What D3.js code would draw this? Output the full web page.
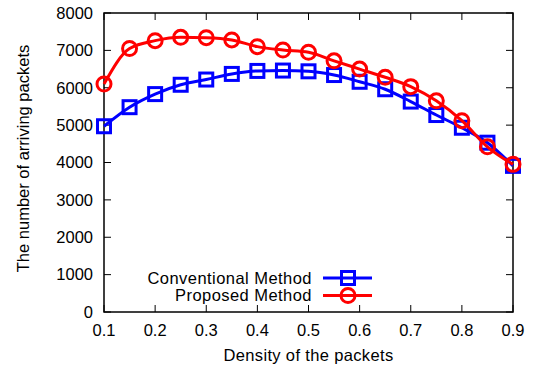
<!DOCTYPE html>
<html>
<head>
<meta charset="utf-8">
<script src="https://cdn.jsdelivr.net/npm/d3@7"></script>
<style>
  body { margin: 0; background: #fff; }
  svg text { font-family: "Liberation Sans", Arial, sans-serif; fill: #000; }
</style>
</head>
<body>
<div id="chart"></div>
<script>
const density = [0.1, 0.15, 0.2, 0.25, 0.3, 0.35, 0.4, 0.45, 0.5, 0.55, 0.6, 0.65, 0.7, 0.75, 0.8, 0.85, 0.9];
const conventional = [4970, 5480, 5830, 6080, 6220, 6370, 6450, 6460, 6440, 6340, 6160, 5960, 5630, 5270, 4930, 4530, 3910];
const proposed = [6100, 7050, 7260, 7350, 7340, 7280, 7100, 7010, 6950, 6720, 6500, 6280, 6030, 5650, 5120, 4420, 3950];
const xTicks = [0.1, 0.2, 0.3, 0.4, 0.5, 0.6, 0.7, 0.8, 0.9];
const yTicks = [0, 1000, 2000, 3000, 4000, 5000, 6000, 7000, 8000];

const width = 536, height = 369;
const margin = { top: 13, right: 23, bottom: 57, left: 104 };
const fontSize = 16.5;

const svg = d3.select('#chart').append('svg')
  .attr('width', width)
  .attr('height', height);

const x = d3.scaleLinear().domain([0.1, 0.9]).range([margin.left, width - margin.right]);
const y = d3.scaleLinear().domain([0, 8000]).range([height - margin.bottom, margin.top]);

// tick marks, mirrored on all four sides, pointing inward
const tickLen = 7;
const axes = svg.append('g').attr('stroke', '#000').attr('stroke-width', 1);
xTicks.forEach(t => {
  axes.append('line').attr('x1', x(t)).attr('x2', x(t)).attr('y1', y(0)).attr('y2', y(0) - tickLen);
  axes.append('line').attr('x1', x(t)).attr('x2', x(t)).attr('y1', y(8000)).attr('y2', y(8000) + tickLen);
});
yTicks.forEach(t => {
  axes.append('line').attr('x1', x(0.1)).attr('x2', x(0.1) + tickLen).attr('y1', y(t)).attr('y2', y(t));
  axes.append('line').attr('x1', x(0.9)).attr('x2', x(0.9) - tickLen).attr('y1', y(t)).attr('y2', y(t));
});
svg.append('rect')
  .attr('x', x(0.1)).attr('y', y(8000))
  .attr('width', x(0.9) - x(0.1)).attr('height', y(0) - y(8000))
  .attr('fill', 'none').attr('stroke', '#000').attr('stroke-width', 1.5);

// tick labels
svg.append('g').selectAll('text').data(xTicks).join('text')
  .attr('x', d => x(d)).attr('y', y(0) + 18)
  .attr('dy', '0.35em').attr('text-anchor', 'middle')
  .style('font-size', fontSize + 'px')
  .text(d => d3.format('.1f')(d));

svg.append('g').selectAll('text').data(yTicks).join('text')
  .attr('x', x(0.1) - 11).attr('y', d => y(d))
  .attr('dy', '0.35em').attr('text-anchor', 'end')
  .style('font-size', fontSize + 'px')
  .text(d => d);

// axis titles
svg.append('text')
  .attr('x', (x(0.1) + x(0.9)) / 2).attr('y', 355)
  .attr('dy', '0.35em').attr('text-anchor', 'middle')
  .style('font-size', fontSize + 'px')
  .style('letter-spacing', '0.35px')
  .text('Density of the packets');

svg.append('text')
  .attr('transform', `translate(23, ${(y(0) + y(8000)) / 2 - 4}) rotate(-90)`)
  .attr('dy', '0.35em').attr('text-anchor', 'middle')
  .style('font-size', fontSize + 'px')
  .text('The number of arriving packets');

const line = d3.line()
  .x(d => x(d[0]))
  .y(d => y(d[1]))
  .curve(d3.curveMonotoneX);

const series = [
  { name: 'Conventional Method', values: conventional, color: '#0000ff', marker: 'square' },
  { name: 'Proposed Method', values: proposed, color: '#ff0000', marker: 'circle' },
];

function drawMarker(g, type, color, cx, cy) {
  if (type === 'square') {
    g.append('rect')
      .attr('x', cx - 6.5).attr('y', cy - 6.5)
      .attr('width', 13).attr('height', 13)
      .attr('fill', 'none').attr('stroke', color).attr('stroke-width', 3);
  } else {
    g.append('circle')
      .attr('cx', cx).attr('cy', cy).attr('r', 7)
      .attr('fill', 'none').attr('stroke', color).attr('stroke-width', 3);
  }
}

series.forEach(s => {
  const pts = density.map((d, i) => [d, s.values[i]]);
  const g = svg.append('g');
  g.append('path')
    .datum(pts)
    .attr('d', line)
    .attr('fill', 'none')
    .attr('stroke', s.color)
    .attr('stroke-width', 3);
  pts.forEach(p => drawMarker(g, s.marker, s.color, x(p[0]), y(p[1])));
});

// legend
const legend = svg.append('g');
series.forEach((s, i) => {
  const ly = 278 + i * 17.5;
  legend.append('text')
    .attr('x', 312).attr('y', ly)
    .attr('dy', '0.35em').attr('text-anchor', 'end')
    .style('font-size', fontSize + 'px')
    .style('letter-spacing', '0.45px')
    .text(s.name);
  legend.append('line')
    .attr('x1', 323).attr('x2', 372).attr('y1', ly).attr('y2', ly)
    .attr('stroke', s.color).attr('stroke-width', 3);
  drawMarker(legend, s.marker, s.color, 348, ly);
});
</script>
</body>
</html>
